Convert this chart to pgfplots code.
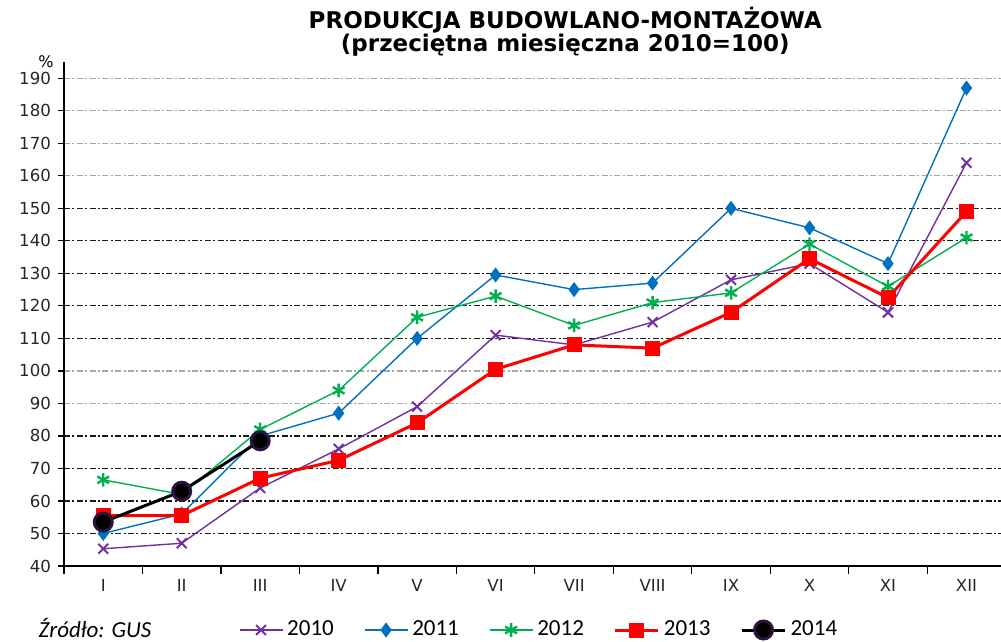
\documentclass[border=0pt]{standalone}
\usepackage{fontspec}
\setmainfont{DejaVu Sans}
\newfontfamily\carlito{Carlito}
\usepackage{pgfplots}
\pgfplotsset{compat=1.18}
\usetikzlibrary{calc}

\definecolor{c2010}{RGB}{112,48,160}
\definecolor{c2011}{RGB}{0,112,192}
\definecolor{c2012}{RGB}{0,176,80}
\definecolor{c2013}{RGB}{255,0,0}

\begin{document}
\begin{tikzpicture}
\begin{axis}[
    scale only axis,
    width=468.5pt, height=252pt,
    xmin=-0.5, xmax=11.44,
    ymin=40, ymax=195,
    axis x line=bottom, axis y line=left,
    axis line style={-, black, line width=0.8pt},
    clip=false,
    xtick={0,...,11},
    xticklabels={I,II,III,IV,V,VI,VII,VIII,IX,X,XI,XII},
    minor xtick={-0.5,0.5,...,10.5},
    major x tick style={draw=none},
    minor x tick style={black, line width=0.6pt},
    ytick={40,50,...,190},
    y tick style={black, line width=0.6pt},
    tick align=outside,
    major tick length=3pt,
    minor tick length=4pt,
    ticklabel style={font=\fontsize{8.3}{9}\selectfont, text=black!85},
    /pgf/number format/assume math mode=true,
    ymajorgrids=true,
    grid style={gray!70, line width=0.6pt, dash pattern=on 3pt off 1.2pt on 1pt off 1.2pt},
    extra y ticks={50,60,70,80,110,120,130,140,150},
    extra y tick labels={},
    extra y tick style={ymajorgrids=true, grid style={black!90, line width=0.6pt, dash pattern=on 3pt off 1.2pt on 1pt off 1.2pt}},
    legend columns=-1,
    legend style={at={(axis description cs:0.508,-0.127)}, anchor=center,
      draw=none, fill=none, font=\carlito\fontsize{11.5}{13}\selectfont,
      /tikz/every even column/.append style={column sep=13pt}},
    legend image code/.code={\draw[mark repeat=2,mark phase=2] plot coordinates {(0pt,0pt) (10.75pt,0pt) (21.5pt,0pt)};},
]
\addplot[c2010, line width=0.7pt, mark=x, mark size=3.5pt, mark options={line width=1pt}]
  coordinates {(0,45.3) (1,47) (2,64) (3,76) (4,89) (5,111) (6,108) (7,115) (8,128) (9,133) (10,118) (11,164)};
\addlegendentry{2010}
\addplot[c2011, line width=0.7pt, mark=diamond*, mark size=3.2pt]
  coordinates {(0,50) (1,56) (2,80) (3,87) (4,110) (5,129.5) (6,125) (7,127) (8,150) (9,144) (10,133) (11,187)};
\addlegendentry{2011}
\addplot[c2012, line width=0.7pt, mark=asterisk, mark size=3.4pt, mark options={line width=1.2pt}]
  coordinates {(0,66.5) (1,62) (2,82) (3,94) (4,116.5) (5,123) (6,114) (7,121) (8,124) (9,139) (10,126) (11,141)};
\addlegendentry{2012}
\addplot[c2013, line width=1.5pt, mark=square*, mark size=3pt]
  coordinates {(0,55.5) (1,55.5) (2,67) (3,72.5) (4,84) (5,100.5) (6,108) (7,107) (8,118) (9,134.5) (10,122.5) (11,149)};
\addlegendentry{2013}
\addplot[black, line width=1.5pt, mark=*, mark size=4.5pt, mark options={draw=c2010!40!black}]
  coordinates {(0,53.5) (1,63) (2,78.5)};
\addlegendentry{2014}
\node[anchor=east, inner sep=0pt, font=\fontsize{8}{9}\selectfont] at ([xshift=-5pt]rel axis cs:0,1) {\%};
\node[font=\bfseries\fontsize{11.5}{13}\selectfont] at ([yshift=21pt]rel axis cs:0.535,1) {PRODUKCJA BUDOWLANO-MONTAŻOWA};
\node[font=\bfseries\fontsize{11.5}{13}\selectfont] at ([yshift=8.5pt]rel axis cs:0.535,1) {(przeciętna miesięczna 2010=100)};
\node[font=\carlito\itshape\fontsize{11.5}{13}\selectfont] at ([yshift=-31pt]rel axis cs:0.033,0) {Źródło: GUS};
\coordinate (sw) at (rel axis cs:0,0);
\coordinate (ne) at (rel axis cs:1,1);
\end{axis}
\pgfresetboundingbox
\path[use as bounding box] ($(sw)+(-32pt,-38pt)$) rectangle ($(ne)+(0pt,31pt)$);
\end{tikzpicture}
\end{document}
